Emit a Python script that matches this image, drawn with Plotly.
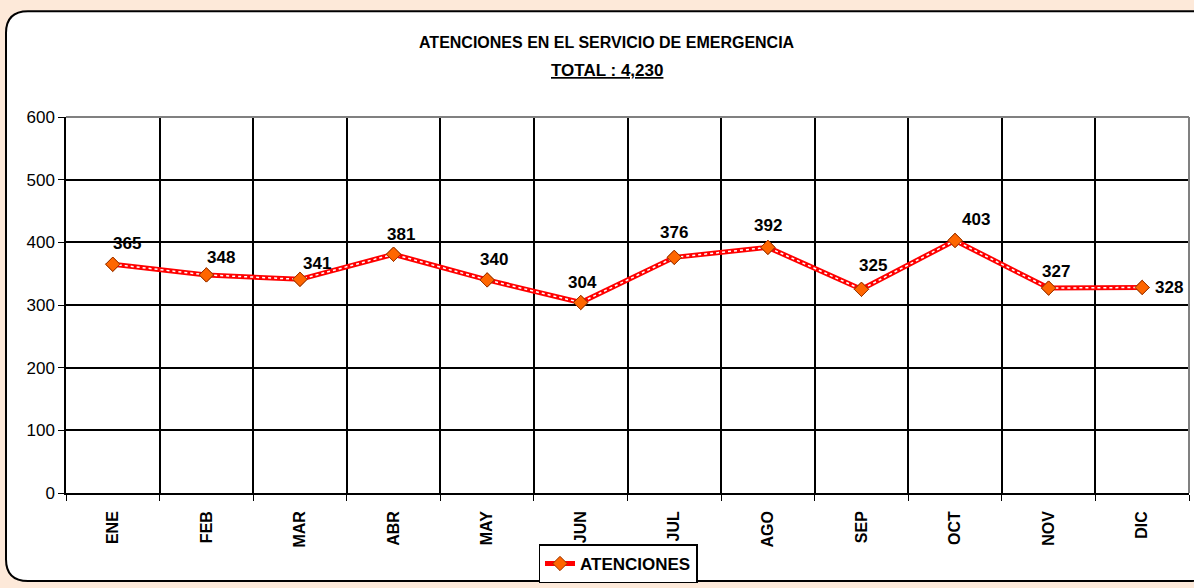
import plotly.graph_objects as go

months = ["ENE", "FEB", "MAR", "ABR", "MAY", "JUN", "JUL", "AGO", "SEP", "OCT", "NOV", "DIC"]
atenciones = [365, 348, 341, 381, 340, 304, 376, 392, 325, 403, 327, 328]
y_ticks = [0, 100, 200, 300, 400, 500, 600]

# label offsets (pixels) as placed in the original chart
label_dx = [14, 15, 17, 7, 7, 2, 0, 0, 12, 21, 7, 27]
label_dy = [21, 17, 16, 20, 20, 20, 25, 22, 24, 21, 17, 0]

FONT = "Arial, Liberation Sans, sans-serif"
W, H = 1194, 588
L, R, T, B = 66, 5, 117, 91
pw, ph = W - L - R, H - T - B


def px(x):
    return (x - L) / pw


def py(y):
    return (H - B - y) / ph


marker_style = dict(symbol="diamond", size=11, color="#FF6600", line=dict(color="#993300", width=1))

fig = go.Figure()

fig.add_trace(
    go.Scatter(
        x=months,
        y=atenciones,
        mode="lines+markers",
        name="ATENCIONES",
        line=dict(color="#FF0000", width=5),
        marker=marker_style,
    )
)
# white chain pattern inside the red line
fig.add_trace(
    go.Scatter(
        x=months,
        y=atenciones,
        mode="lines",
        line=dict(color="white", width=1.5, dash="dot"),
        showlegend=False,
        hoverinfo="skip",
    )
)
fig.add_trace(
    go.Scatter(
        x=months,
        y=atenciones,
        mode="markers",
        marker=marker_style,
        showlegend=False,
        hoverinfo="skip",
    )
)

for m, v, dx, dy in zip(months, atenciones, label_dx, label_dy):
    fig.add_annotation(
        x=m, y=v, text=f"<b>{v}</b>", showarrow=False,
        xshift=dx, yshift=dy, font=dict(family=FONT, size=17, color="black"),
    )

# titles
fig.add_annotation(
    xref="paper", yref="paper", x=px(607), y=py(42), xanchor="center", yanchor="middle",
    text="<b>ATENCIONES EN EL SERVICIO DE EMERGENCIA</b>",
    showarrow=False, font=dict(family=FONT, size=16, color="black"),
)
fig.add_annotation(
    xref="paper", yref="paper", x=px(607), y=py(70), xanchor="center", yanchor="middle",
    text="<b><u>TOTAL : 4,230</u></b>",
    showarrow=False, font=dict(family=FONT, size=17, color="black"),
)

# rounded white frame
x0, x1, y0, y1 = px(6), px(1212), py(586), py(10)
rx, ry = 22 / pw, 22 / ph
path = (
    f"M {x0 + rx},{y1} L {x1 - rx},{y1} Q {x1},{y1} {x1},{y1 - ry} "
    f"L {x1},{y0 + ry} Q {x1},{y0} {x1 - rx},{y0} "
    f"L {x0 + rx},{y0} Q {x0},{y0} {x0},{y0 + ry} "
    f"L {x0},{y1 - ry} Q {x0},{y1} {x0 + rx},{y1} Z"
)
fig.add_shape(type="path", xref="paper", yref="paper", path=path,
              fillcolor="white", line=dict(color="black", width=2), layer="below")

# plot area border (top / right in grey)
fig.add_shape(type="line", xref="paper", yref="paper", x0=0, y0=1, x1=1, y1=1,
              line=dict(color="#808080", width=2))
fig.add_shape(type="line", xref="paper", yref="paper", x0=1, y0=0, x1=1, y1=1,
              line=dict(color="#808080", width=2))

fig.update_xaxes(
    type="category",
    range=[-0.5, len(months) - 0.5],
    tickson="boundaries",
    showgrid=True,
    gridcolor="black",
    gridwidth=1.5,
    showline=True,
    linecolor="black",
    linewidth=1.5,
    ticks="outside",
    ticklen=6,
    tickcolor="black",
    tickangle=-90,
    ticklabelstandoff=10,
    tickfont=dict(family=FONT, size=16, color="black", weight="bold"),
)
fig.update_yaxes(
    range=[0, 600],
    tickvals=y_ticks,
    showgrid=True,
    gridcolor="black",
    gridwidth=1.5,
    showline=True,
    linecolor="black",
    linewidth=1.5,
    ticks="outside",
    ticklen=6,
    tickcolor="black",
    tickfont=dict(family=FONT, size=17, color="black"),
    zeroline=False,
)

fig.update_layout(
    width=W,
    height=H,
    margin=dict(l=L, r=R, t=T, b=B),
    paper_bgcolor="#FDE9D9",
    plot_bgcolor="white",
    font=dict(family=FONT, color="black"),
    showlegend=True,
    legend=dict(
        orientation="h",
        x=px(618), xanchor="center",
        y=py(549), yanchor="top",
        bordercolor="black",
        borderwidth=1.5,
        bgcolor="white",
        font=dict(family=FONT, size=17, color="black", weight="bold"),
    ),
)

fig.write_html(
    "out.html",
    config={"displayModeBar": False},
    post_script="document.body.style.margin='0';",
)
